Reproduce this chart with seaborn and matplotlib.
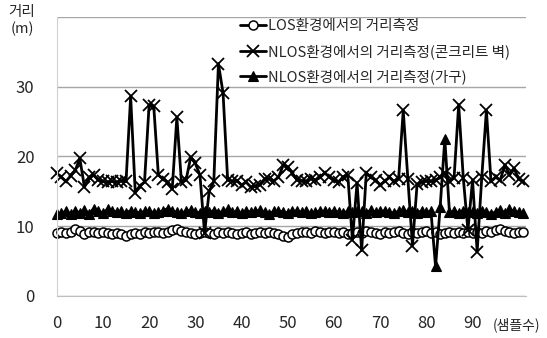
# LOS / NLOS distance measurement chart
import numpy as np
import pandas as pd
import matplotlib
matplotlib.use("Agg")
import matplotlib.pyplot as plt
import seaborn as sns

sns.set_style("white")
plt.rcParams['font.family'] = ['Noto Sans CJK KR', 'DejaVu Sans']

# --------------------------------------------
# Data
# --------------------------------------------
samples = np.arange(102)

los = [
    9.0, 9.1, 9.0, 9.2, 9.6, 9.3, 8.9, 9.1, 9.2, 9.0,
    9.1, 9.0, 8.9, 9.0, 8.8, 8.6, 8.8, 9.0, 8.9, 9.1,
    9.0, 9.2, 9.1, 9.0, 9.2, 9.4, 9.6, 9.3, 9.1, 9.0,
    8.9, 9.0, 9.2, 9.0, 8.9, 9.1, 9.0, 9.2, 9.0, 8.8,
    9.0, 9.1, 8.9, 9.0, 9.2, 9.0, 9.1, 9.0, 8.8, 8.6,
    8.5, 8.8, 9.0, 9.2, 9.1, 9.0, 9.3, 9.2, 9.0, 9.1,
    9.2, 9.0, 9.1, 8.9, 9.0, 9.2, 9.0, 9.3, 9.1, 9.0,
    8.9, 9.2, 9.0, 9.1, 9.3, 9.0, 8.9, 9.2, 9.0, 9.1,
    9.3, 9.0, 9.1, 8.9, 9.0, 9.2, 9.0, 9.1, 9.0, 9.2,
    9.0, 9.1, 9.0, 9.3, 9.2, 9.4, 9.6, 9.3, 9.1, 9.0,
    9.2, 9.2,
]

nlos_wall = [
    17.6, 17.0, 16.4, 17.2, 18.0, 19.7, 15.6, 17.0, 17.3, 16.6,
    16.4, 16.3, 16.4, 16.3, 16.5, 16.4, 28.6, 14.8, 15.8, 16.3,
    27.4, 27.2, 17.3, 16.8, 16.3, 15.3, 25.6, 16.3, 16.6, 19.9,
    19.0, 17.3, 9.0, 15.0, 16.4, 33.3, 29.1, 16.6, 16.4, 16.5,
    15.9, 16.3, 15.6, 15.7, 15.9, 16.8, 16.8, 16.5, 17.0, 18.7,
    18.5, 17.6, 16.6, 16.5, 16.4, 16.8, 16.6, 17.0, 17.6, 17.1,
    16.6, 16.3, 17.1, 17.3, 8.0, 16.2, 6.5, 17.6, 17.0, 16.6,
    15.9, 16.4, 17.0, 16.4, 16.8, 26.6, 16.8, 7.2, 16.0, 16.3,
    16.5, 16.4, 16.6, 17.0, 17.6, 16.4, 16.9, 27.4, 16.9, 9.4,
    16.6, 6.3, 17.0, 26.6, 16.4, 17.0, 16.6, 18.8, 17.3, 18.3,
    16.7, 16.4,
]

nlos_furniture = [
    11.7, 11.9, 12.1, 11.8, 12.2, 11.9, 12.3, 11.8, 12.5, 12.1,
    11.9, 12.4, 12.2, 12.0, 12.1, 11.9, 12.2, 12.0, 11.9, 12.1,
    12.2, 11.9, 12.0, 12.2, 12.5, 12.1, 12.0, 11.9, 12.1, 12.3,
    12.0, 11.9, 12.1, 12.0, 12.2, 11.9, 12.1, 12.4, 12.0, 12.1,
    11.9, 12.2, 12.0, 12.1, 12.3, 12.0, 11.8, 12.1, 12.2, 12.0,
    11.9, 12.1, 12.2, 12.0, 12.1, 11.9, 12.0, 12.2, 12.1, 12.0,
    12.2, 12.0, 11.9, 12.1, 12.0, 12.2, 12.1, 11.9, 12.3, 12.0,
    12.1, 12.2, 12.0, 11.9, 12.1, 12.3, 12.0, 12.1, 11.9, 12.2,
    12.0, 12.1, 4.2, 12.8, 22.5, 12.0, 12.1, 11.9, 12.2, 12.0,
    12.1, 11.9, 12.2, 12.0, 11.8, 12.0, 12.3, 11.9, 12.4, 12.1,
    12.0, 11.9,
]

series_names = [
    "LOS환경에서의 거리측정",
    "NLOS환경에서의 거리측정(콘크리트 벽)",
    "NLOS환경에서의 거리측정(가구)",
]

xtick_values = np.arange(0, 101, 5)
ytick_values = [0, 10, 20, 30, 40]

# --------------------------------------------
# Figure
# --------------------------------------------
fig = plt.figure(figsize=(5.47, 3.38), dpi=100)
ax = fig.add_axes([0.1037, 0.125, 0.8573, 0.8247])

marker_styles = [
    dict(marker='o', markersize=6.5, markerfacecolor='white',
         markeredgecolor='black', markeredgewidth=1.1),
    dict(marker='x', markersize=8, markeredgecolor='black',
         markeredgewidth=1.3),
    dict(marker='^', markersize=7, markerfacecolor='black',
         markeredgecolor='black', markeredgewidth=0.8),
]

for values, name, style in zip([los, nlos_wall, nlos_furniture],
                               series_names, marker_styles):
    sns.lineplot(x=samples, y=values, ax=ax, color='black',
                 linewidth=2.0, label=name, clip_on=False, **style)

ax.set_xlim(0, 101.5)
ax.set_ylim(0, 40)

ax.set_xticks(xtick_values)
ax.set_xticklabels([str(v) if v % 10 == 0 and v < 100 else ''
                    for v in xtick_values])
ax.set_yticks(ytick_values)
ax.set_yticklabels(['0', '10', '20', '30', ''])

ax.tick_params(axis='x', direction='out', length=6, width=1,
               color='#bfbfbf', labelsize=12, pad=8)
ax.tick_params(axis='y', direction='out', length=6, width=1,
               color='#a6a6a6', labelsize=12, pad=10)

ax.yaxis.grid(True, color='#a6a6a6', linewidth=1)
ax.xaxis.grid(False)
ax.set_axisbelow(True)

for side in ['top', 'right']:
    ax.spines[side].set_visible(False)
ax.spines['left'].set_color('#d0d0d0')
ax.spines['bottom'].set_color('#bfbfbf')

ax.set_xlabel('')
ax.set_ylabel('')

# axis captions
fig.text(22 / 547, 1 - 12 / 338, '거리', ha='center', va='center', fontsize=10.5)
fig.text(22 / 547, 1 - 29 / 338, '(m)', ha='center', va='center', fontsize=10.5)
fig.text(517 / 547, 1 - 325 / 338, '(샘플수)', ha='center', va='center', fontsize=10)

ax.legend(loc='upper left', bbox_to_anchor=(240 / 547, 1 - 19 / 338),
          bbox_transform=fig.transFigure, frameon=False, fontsize=10.5,
          handlelength=1.8, handletextpad=0.15, labelspacing=0.75,
          borderpad=0, borderaxespad=0)

fig.savefig('out.png', dpi=100)
